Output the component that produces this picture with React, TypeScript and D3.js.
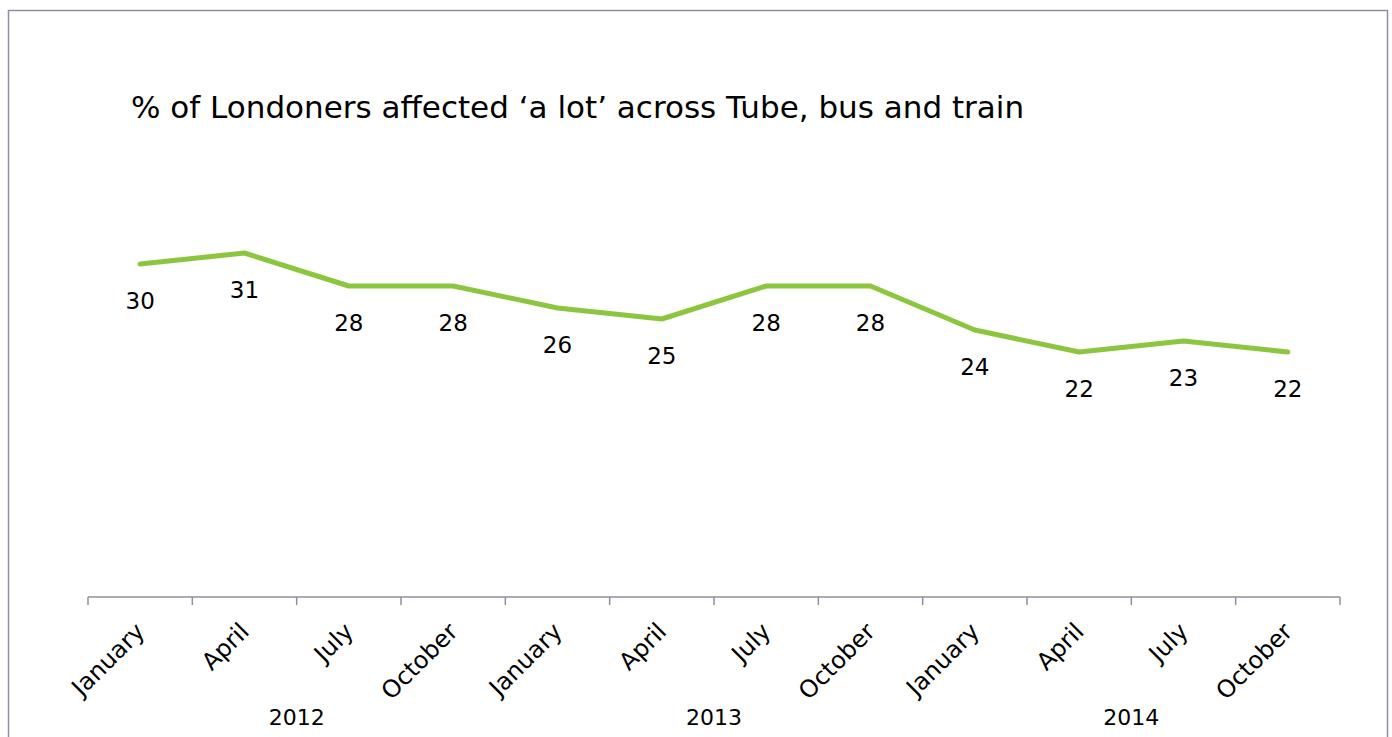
import React, { useEffect, useRef } from 'react';
import * as d3 from 'd3';

const months = ['January', 'April', 'July', 'October', 'January', 'April', 'July', 'October', 'January', 'April', 'July', 'October'];
const years = ['2012', '2013', '2014'];
const values = [30, 31, 28, 28, 26, 25, 28, 28, 24, 22, 23, 22];
const title = '% of Londoners affected \u2018a lot\u2019 across Tube, bus and train';

export default function App() {
  const svgRef = useRef<SVGSVGElement | null>(null);

  useEffect(() => {
    const width = 1392;
    const height = 737;
    const font = "'Century Gothic', 'DejaVu Sans', sans-serif";

    const svg = d3.select(svgRef.current)
      .attr('width', width)
      .attr('height', height)
      .style('display', 'block')
      .style('background', '#fff');

    svg.selectAll('*').remove();

    // chart frame
    svg.append('rect')
      .attr('x', 8.5)
      .attr('y', 10.5)
      .attr('width', 1379)
      .attr('height', 740)
      .attr('fill', 'none')
      .attr('stroke', '#8e8ea2')
      .attr('stroke-width', 1.5);

    const idx = months.map((_, i) => String(i));
    const x = d3.scaleBand()
      .domain(idx)
      .range([88, 1340]);

    const y = d3.scaleLinear()
      .domain([0, 50])
      .range([594, 44]);

    const axisY = 597;

    // axis line + ticks
    const axis = svg.append('g').attr('stroke', '#8e8ea2').attr('stroke-width', 1.5);
    axis.append('line')
      .attr('x1', 88).attr('x2', 1340)
      .attr('y1', axisY).attr('y2', axisY);
    const tickPos = idx.map((d) => x(d)!).concat([x.range()[1]]);
    axis.selectAll('.tick')
      .data(tickPos)
      .join('line')
      .attr('x1', (d) => d).attr('x2', (d) => d)
      .attr('y1', axisY).attr('y2', axisY + 8);

    // month labels
    svg.selectAll('.month')
      .data(months)
      .join('text')
      .attr('class', 'month')
      .attr('transform', (_, i) => `translate(${x(String(i))! + x.bandwidth() / 2 + 6},${axisY + 36}) rotate(-45)`)
      .attr('text-anchor', 'end')
      .style('font-family', font)
      .style('font-size', '24px')
      .style('fill', '#000')
      .text((d) => d);

    // year labels
    svg.selectAll('.year')
      .data(years)
      .join('text')
      .attr('class', 'year')
      .attr('x', (_, i) => (tickPos[i * 4] + tickPos[i * 4 + 4]) / 2)
      .attr('y', 725)
      .attr('text-anchor', 'middle')
      .style('font-family', font)
      .style('font-size', '22px')
      .style('fill', '#000')
      .text((d) => d);

    const line = d3.line<number>()
      .x((_, i) => x(String(i))! + x.bandwidth() / 2)
      .y((d) => y(d));

    svg.append('path')
      .datum(values)
      .attr('d', line)
      .attr('fill', 'none')
      .attr('stroke', '#8cc63e')
      .attr('stroke-width', 5)
      .attr('stroke-linejoin', 'round')
      .attr('stroke-linecap', 'round');

    svg.selectAll('.val')
      .data(values)
      .join('text')
      .attr('class', 'val')
      .attr('x', (_, i) => x(String(i))! + x.bandwidth() / 2)
      .attr('y', (d) => y(d) + 45)
      .attr('text-anchor', 'middle')
      .style('font-family', font)
      .style('font-size', '23px')
      .style('fill', '#000')
      .text((d) => d);

    svg.append('text')
      .attr('x', 131)
      .attr('y', 118)
      .style('font-family', font)
      .style('font-size', '31px')
      .style('fill', '#000')
      .text(title);
  }, []);

  return (
    <div style={{ position: 'absolute', left: 0, top: 0 }}>
      <svg ref={svgRef}></svg>
    </div>
  );
}
